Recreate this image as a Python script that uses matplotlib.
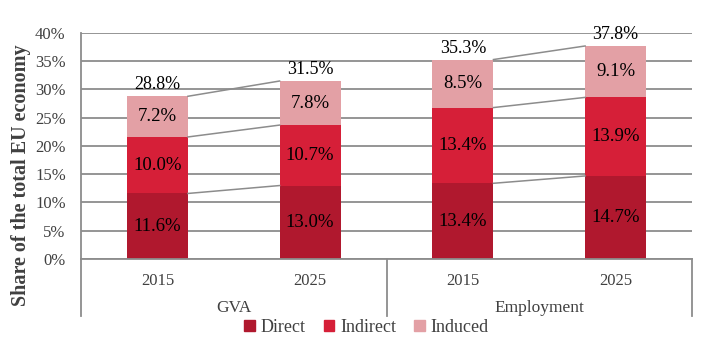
import matplotlib
matplotlib.use('Agg')
import matplotlib.pyplot as plt
from matplotlib.patches import Patch

plt.rcParams['font.family'] = ['Liberation Serif', 'DejaVu Serif']

years = ['2015', '2025', '2015', '2025']
groups = ['GVA', 'Employment']
direct = [11.6, 13.0, 13.4, 14.7]
indirect = [10.0, 10.7, 13.4, 13.9]
induced = [7.2, 7.8, 8.5, 9.1]
totals = ['28.8%', '31.5%', '35.3%', '37.8%']

c_direct = '#B0182E'
c_indirect = '#D61F38'
c_induced = '#E3A0A5'
grid_c = '#8C8C8C'

fig = plt.figure(figsize=(7.24, 3.57), dpi=100)
ax = fig.add_axes([0.1119, 0.2745, 0.8439, 0.6331])

x = list(range(len(years)))
w = 0.4
bottom2 = [d + i for d, i in zip(direct, indirect)]
top = [b + i for b, i in zip(bottom2, induced)]

ax.bar(x, direct, w, color=c_direct, zorder=2, label='Direct')
ax.bar(x, indirect, w, bottom=direct, color=c_indirect, zorder=2, label='Indirect')
ax.bar(x, induced, w, bottom=bottom2, color=c_induced, zorder=2, label='Induced')

# segment labels
for i in x:
    ax.text(i, direct[i] / 2, f'{direct[i]:.1f}%', ha='center', va='center', fontsize=13.5, zorder=4)
    ax.text(i, direct[i] + indirect[i] / 2, f'{indirect[i]:.1f}%', ha='center', va='center', fontsize=13.5, zorder=4)
    ax.text(i, bottom2[i] + induced[i] / 2, f'{induced[i]:.1f}%', ha='center', va='center', fontsize=13.5, zorder=4)
    ax.annotate(totals[i], (i, top[i]), xytext=(0, 2), textcoords='offset points',
                ha='center', va='bottom', fontsize=13, zorder=4)

# connector lines between years within each group
for i in (0, 2):
    for lvl in (direct, bottom2, top):
        ax.plot([i + w / 2, i + 1 - w / 2], [lvl[i], lvl[i + 1]], color=grid_c, lw=1.1, zorder=3)

ax.set_xlim(-0.5, 3.5)
ax.set_ylim(0, 40)
ax.set_yticks(range(0, 41, 5))
ax.set_yticklabels([f'{v}%' for v in range(0, 41, 5)], fontsize=12, color='#404040')
ax.yaxis.grid(True, color=grid_c, lw=1.3, zorder=0)
ax.set_axisbelow(True)
ax.tick_params(axis='y', length=0, pad=11)
ax.set_xticks(x)
ax.set_xticklabels(years, fontsize=12, color='#404040')
ax.tick_params(axis='x', length=0, pad=10)

for s in ('top', 'right'):
    ax.spines[s].set_visible(False)
ax.spines['left'].set_color(grid_c)
ax.spines['left'].set_linewidth(1.3)
ax.spines['bottom'].set_color(grid_c)
ax.spines['bottom'].set_linewidth(1.3)

# group separators below the axis
tr = ax.get_xaxis_transform()
for xb in (-0.5, 1.5, 3.5):
    ax.plot([xb, xb], [0, -0.252], color=grid_c, lw=1.3, transform=tr, clip_on=False)
for gi, g in enumerate(groups):
    ax.text(gi * 2 + 0.5, -0.215, g, transform=tr, ha='center', va='center', fontsize=12.5, color='#404040')

ax.set_ylabel('Share of the total EU economy', fontsize=14.5, fontweight='bold', color='#404040')
ax.yaxis.set_label_coords(-0.082, 0.37)

handles = [Patch(color=c_direct, label='Direct'), Patch(color=c_indirect, label='Indirect'),
           Patch(color=c_induced, label='Induced')]
fig.legend(handles=handles, loc='center', bbox_to_anchor=(0.506, 0.083), ncol=3, frameon=False,
           fontsize=13, handlelength=0.6, handleheight=0.6, handletextpad=0.3, columnspacing=1.0,
           labelcolor='#404040')

fig.savefig('out.png', dpi=100)
